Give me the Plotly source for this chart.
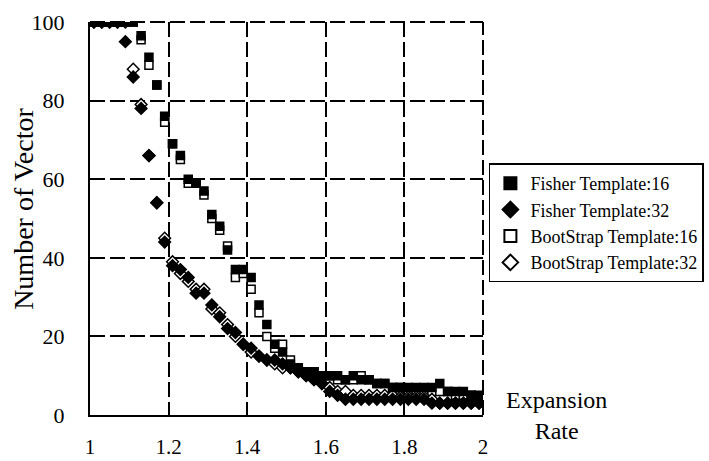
import plotly.graph_objects as go

x_rate = [round(1.01 + 0.02 * i, 2) for i in range(50)]

fisher16 = [100, 100, 100, 100, 100, 100, 96.5, 91, 84, 76,
            69, 66, 60, 59, 57, 51, 48, 42, 37, 37,
            35, 28, 23, 18, 16, 13, 12, 11, 11, 10,
            10, 10, 9, 10, 9, 9, 8, 8, 7, 7,
            7, 7, 7, 7, 8, 6, 6, 6, 5, 5]
fisher32 = [100, 100, 100, 100, 95, 86, 78, 66, 54, 44,
            38, 37, 35, 31, 31, 28, 25, 22, 21, 18,
            17, 15, 14, 14, 13, 12, 11, 10, 9, 8,
            6, 5, 4, 4, 4, 4, 4, 4, 4, 4,
            4, 4, 4, 3, 3, 3, 3, 3, 3, 3]
boot16 = [100, 100, 100, 100, 100, 100, 95.5, 89, 84, 74.5,
          69, 65, 59, 59, 56, 50, 47, 43, 35, 36,
          32, 26, 20, 17, 18, 14, 12, 11, 11, 10,
          10, 9, 9, 9, 10, 9, 8, 8, 7, 7,
          6, 6, 6, 6, 6, 6, 5, 5, 5, 4]
boot32 = [100, 100, 100, 100, 100, 88, 79, 66, 54, 45,
          39, 36, 34, 32, 32, 27, 26, 23, 20, 18,
          16, 15, 14, 13, 12, 12, 11, 10, 9, 8,
          7, 6, 6, 5, 5, 5, 5, 5, 5, 4.6,
          4.6, 4.6, 4.6, 4, 3, 3, 3, 3, 3, 3]

x_ticks = [1, 1.2, 1.4, 1.6, 1.8, 2]
x_tick_text = ["1", "1.2", "1.4", "1.6", "1.8", "2"]
y_ticks = [0, 20, 40, 60, 80, 100]

FONT = "Liberation Serif, DejaVu Serif, serif"
DASH = "15px,5px"

fig = go.Figure()
# open (BootStrap) series drawn first, filled (Fisher) series on top
series = [
    ("BootStrap Template:16", boot16, "square", "white", 8, 3),
    ("BootStrap Template:32", boot32, "diamond", "white", 9, 4),
    ("Fisher Template:16", fisher16, "square", "black", 8, 1),
    ("Fisher Template:32", fisher32, "diamond", "black", 9, 2),
]
for name, ys, sym, col, sz, rank in series:
    fig.add_trace(go.Scatter(
        x=x_rate, y=ys, mode="markers", name=name, legendrank=rank,
        marker=dict(symbol=sym, size=sz, color=col,
                    line=dict(color="black", width=1.5)),
    ))

fig.update_layout(
    width=709, height=461,
    margin=dict(l=90, r=226, t=22, b=46, autoexpand=False),
    paper_bgcolor="white", plot_bgcolor="white",
    font=dict(family=FONT, size=22, color="black"),
    showlegend=True,
    legend=dict(
        x=1.015, y=0.64, xanchor="left", yanchor="top",
        font=dict(family=FONT, size=18, color="black"),
        bordercolor="black", borderwidth=1.5,
        bgcolor="white", itemsizing="constant",
        tracegroupgap=0, itemwidth=30,
    ),
    xaxis=dict(
        range=[1, 2], tickvals=x_ticks, ticktext=x_tick_text,
        showgrid=True, gridcolor="black", gridwidth=2, griddash=DASH,
        showline=True, linecolor="black", linewidth=2,
        ticks="", zeroline=False, ticklabelstandoff=12, automargin=False,
        tickfont=dict(family=FONT, size=21, color="black"),
    ),
    yaxis=dict(
        range=[0, 100], tickvals=y_ticks,
        showgrid=True, gridcolor="black", gridwidth=2, griddash=DASH,
        showline=True, linecolor="black", linewidth=2,
        ticks="", zeroline=False, ticklabelstandoff=19, automargin=False,
        tickfont=dict(family=FONT, size=22, color="black"),
    ),
    shapes=[
        dict(type="line", xref="x domain", yref="y domain", x0=1, x1=1, y0=0, y1=1,
             line=dict(color="black", width=2, dash=DASH), layer="below"),
        dict(type="line", xref="x domain", yref="y domain", x0=0, x1=1, y0=1, y1=1,
             line=dict(color="black", width=2, dash=DASH), layer="below"),
    ],
    annotations=[
        dict(text="Number of Vector", x=-0.171, y=0.524, xref="paper", yref="paper",
             xanchor="center", yanchor="middle", textangle=-90, showarrow=False,
             font=dict(family=FONT, size=28, color="black")),
        dict(text="Expansion<br>Rate", x=1.186, y=0.0, xref="paper", yref="paper",
             xanchor="center", yanchor="middle", showarrow=False, align="center",
             font=dict(family=FONT, size=24, color="black")),
    ],
)

fig.write_html("out.html")
